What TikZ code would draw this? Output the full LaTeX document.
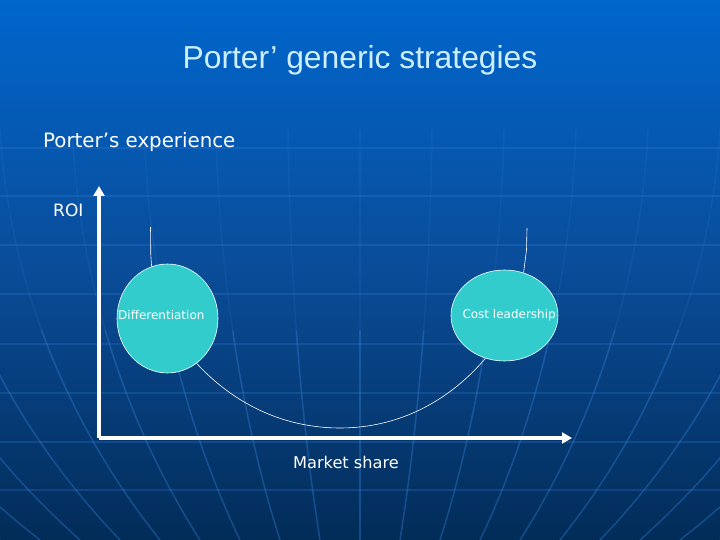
\documentclass[tikz,border=0pt]{standalone}
\usepackage{fontspec}
\setmainfont{Liberation Sans}
\newfontfamily\verd{DejaVu Sans}
\usetikzlibrary{shapes.geometric,arrows.meta}
\definecolor{bgtop}{HTML}{0066CC}
\definecolor{bgmid}{HTML}{0A4C98}
\definecolor{bgbot}{HTML}{022C58}
\definecolor{gridc}{HTML}{3A8AE8}
\definecolor{titlec}{HTML}{CCEEFF}
\definecolor{blob}{HTML}{33CCCC}
\tikzset{
  gridline/.style={draw=gridc, line width=1.5pt, opacity=0.22},
  meridian/.style={draw=gridc, line width=1.5pt, opacity=0.12},
  axis/.style={draw=white, line width=4pt, -{Triangle[length=10pt,width=11pt]}},
  blobnode/.style={ellipse, draw=white, line width=0.6pt, fill=blob, inner sep=0pt, text=white},
  thinline/.style={draw=white, line width=0.6pt},
  lbl/.style={text=white, inner sep=0pt}
}
\begin{document}
\begin{tikzpicture}[x=1pt,y=-1pt]
\useasboundingbox (0,0) rectangle (720,540);
% background
\shade[top color=bgtop, bottom color=bgbot, middle color=bgmid] (0,0) rectangle (720,540);
% grid: horizontal lines
\foreach \yy in {148,196,245,294,344,393,442,490} {
  \draw[gridline] (0,\yy) -- (720,\yy);
}
% grid: meridians converging downward
\foreach \k in {-9,...,9} {
  \draw[meridian] (360+\k*72,130) .. controls (360+\k*70,300) and (360+\k*56,440) .. (360+\k*40,540);
}
\begin{scope}
\clip (0,330) rectangle (720,540);
\foreach \k in {-9,...,9} {
  \draw[meridian, opacity=0.25] (360+\k*72,130) .. controls (360+\k*70,300) and (360+\k*56,440) .. (360+\k*40,540);
}
\end{scope}
% title and texts
\node[text=titlec, inner sep=0pt, font=\fontsize{31.8}{36}\selectfont] (title) at (360,60) {Porter’ generic strategies};
\node[lbl, anchor=west, font=\verd\fontsize{19.8}{23}\selectfont] (exp) at (43,142) {Porter’s experience};
\node[lbl, anchor=west, font=\verd\fontsize{17}{20}\selectfont] (roi) at (53,210) {ROI};
\node[lbl, font=\verd\fontsize{16.2}{19}\selectfont] (ms) at (346,462) {Market share};
% axes
\coordinate (O) at (99,438);
\coordinate (Ytop) at (99,186);
\coordinate (Xend) at (572,438);
\draw[axis] (O) -- (Ytop);
\draw[axis] (O) -- (Xend);
% ellipses
\node[blobnode, minimum width=101pt, minimum height=109pt] (d) at (167.5,318.5) {};
\node[lbl, anchor=west, font=\verd\fontsize{12}{14}\selectfont] (dt) at (118,315) {Differentiation};
\node[blobnode, minimum width=107pt, minimum height=91pt] (c) at (504.5,315.5) {};
\node[lbl, anchor=east, font=\verd\fontsize{12}{14}\selectfont] (ct) at (556,315) {Cost leadership};
% connectors
\coordinate (dtop) at (150.5,227);
\coordinate (ctop) at (527,228);
\coordinate (bot) at (340,428);
\draw[thinline] (dtop) -- (150.8,255) -- (d.107);
\draw[thinline] (ctop) -- (526.5,250) -- (c.66);
\draw[thinline] (d.-57) .. controls (235,405) and (285,428) .. (bot)
  .. controls (400,428) and (450,400) .. (c.-114);
\end{tikzpicture}
\end{document}
